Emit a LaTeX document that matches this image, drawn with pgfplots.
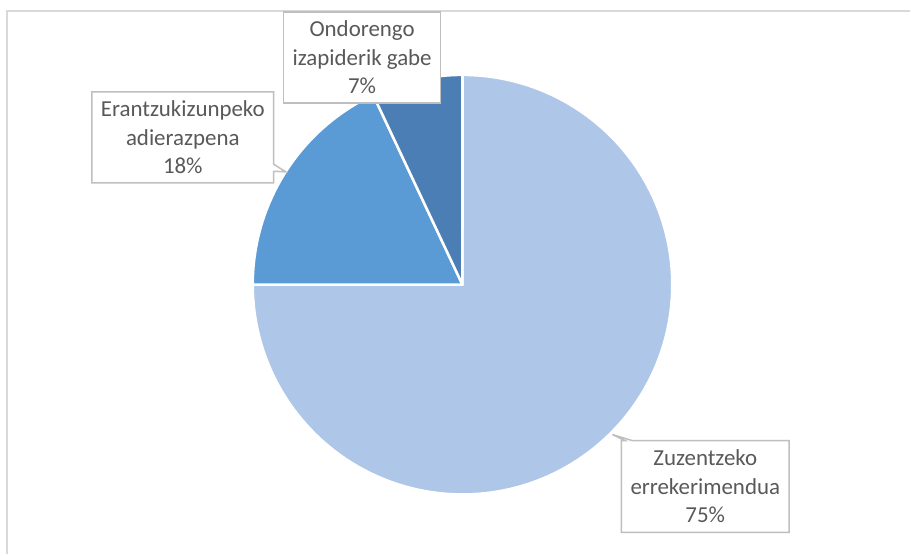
\documentclass[border=0pt]{standalone}
\usepackage{pgfplots}
\pgfplotsset{compat=1.18}
\usepackage{pgfplotstable}
\usepackage{fontspec}
\setmainfont{Carlito}
\usetikzlibrary{shapes.callouts}

\definecolor{sliceA}{HTML}{AEC6E7}
\definecolor{sliceB}{HTML}{5B9BD5}
\definecolor{sliceC}{HTML}{4A7EB4}
\definecolor{framegray}{HTML}{D9D9D9}
\definecolor{boxgray}{HTML}{BFBFBF}
\definecolor{txtgray}{HTML}{595959}

% shares in percent, clockwise from 12 o'clock
\pgfplotstableread{
share
75
18
7
}\piedata

\begin{document}
\begin{tikzpicture}[
  box/.style={draw=boxgray, line width=1.5bp, fill=white, text=txtgray,
    align=center, inner sep=0pt,
    font=\fontsize{23}{28.5}\selectfont},
  wedge/.style={draw=white, line width=2.5bp, line join=round, variable=\t},
]
\pgfplotstablegetelem{0}{share}\of\piedata \let\va\pgfplotsretval
\pgfplotstablegetelem{1}{share}\of\piedata \let\vb\pgfplotsretval
\pgfplotstablegetelem{2}{share}\of\piedata \let\vc\pgfplotsretval
\pgfmathsetmacro{\aA}{90}
\pgfmathsetmacro{\aB}{\aA-3.6*\va}
\pgfmathsetmacro{\aC}{\aB-3.6*\vb}
\pgfmathsetmacro{\aD}{\aC-3.6*\vc}
\begin{axis}[
  x=1bp, y=1bp,
  xmin=0, xmax=911, ymin=0, ymax=555,
  hide axis, clip=false,
]
\fill[white] (axis cs:0,0) rectangle (axis cs:911,555);
\draw[framegray, line width=2bp] (axis cs:7,0) -- (axis cs:7,544) -- (axis cs:911,544);

\addplot[wedge, fill=sliceA, domain=\aB:\aA, samples=150]
  ({463+210*cos(t)}, {270+210*sin(t)}) -- (axis cs:463,270) -- cycle;
\addplot[wedge, fill=sliceB, domain=\aC:\aB, samples=40]
  ({463+210*cos(t)}, {270+210*sin(t)}) -- (axis cs:463,270) -- cycle;
\addplot[wedge, fill=sliceC, domain=\aD:\aC, samples=20]
  ({463+210*cos(t)}, {270+210*sin(t)}) -- (axis cs:463,270) -- cycle;

\node[box, rectangle, minimum width=157bp, minimum height=91bp]
  at (axis cs:362.5,497.5) {Ondorengo\\izapiderik gabe\\7\%};
\node[box, rectangle callout, minimum width=182bp, minimum height=91bp,
  callout absolute pointer={(axis cs:286,383)}]
  at (axis cs:183,417.5) {Erantzukizunpeko\\adierazpena\\18\%};
\node[box, rectangle callout, minimum width=168bp, minimum height=92bp,
  callout absolute pointer={(axis cs:613,120)}]
  at (axis cs:706,68) {Zuzentzeko\\errekerimendua\\75\%};
\end{axis}
\end{tikzpicture}
\end{document}
